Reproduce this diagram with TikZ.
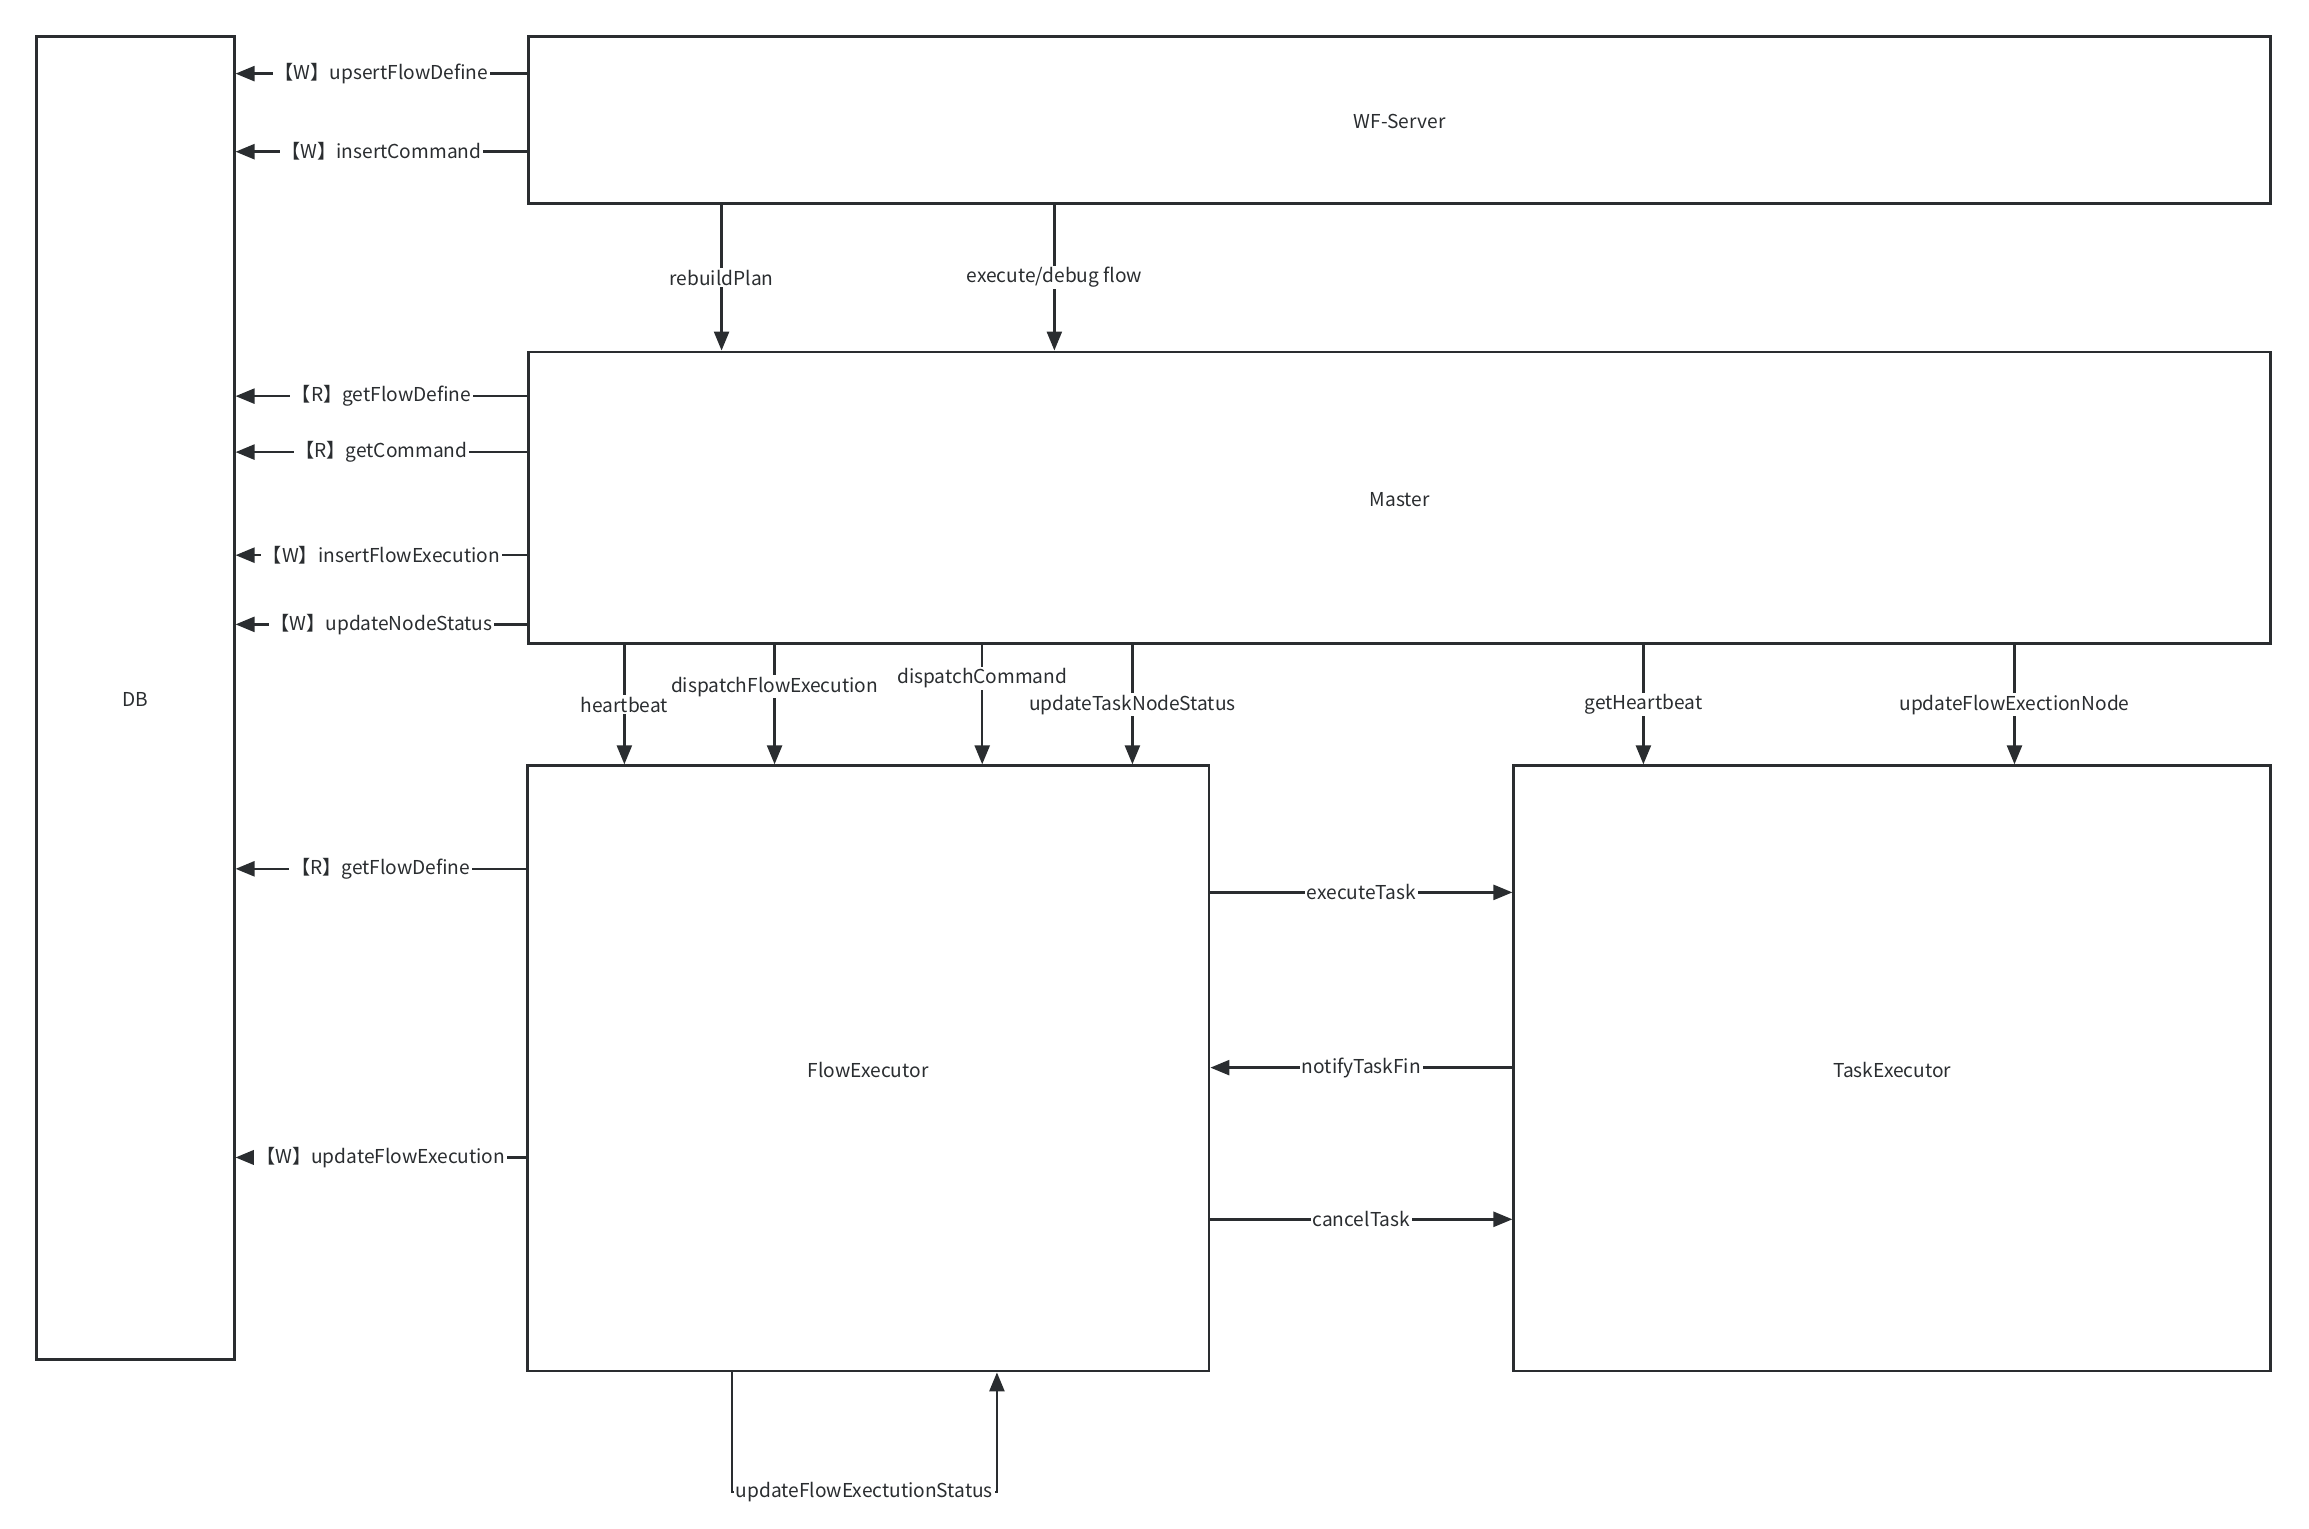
\documentclass[tikz,border=0pt]{standalone}
\usepackage{fontspec}
\setmainfont{Noto Sans CJK SC}
\usetikzlibrary{arrows.meta,fit}
\definecolor{ink}{RGB}{42,45,48}
\begin{document}
\begin{tikzpicture}[x=0.029452cm,y=-0.029452cm,
  font=\fontsize{10.9}{13}\selectfont, text=ink,
  box/.style={draw=ink,line width=1.6pt,inner sep=0pt,rectangle},
  arr/.style={draw=ink,line width=1.4pt,-{Triangle[length=0.38cm,width=0.3cm]}},
  lbl/.style={fill=white,inner sep=1pt,text=ink},
  title/.style={inner sep=0pt,text=ink}]
\useasboundingbox (0,0) rectangle (1568,1038);
% boxes
\node[box,fit={(25,25)(159,923)}] (db) {};
\node[box,fit={(359,25)(1542,138)}] (wf) {};
\node[box,fit={(359,239)(1542,437)}] (master) {};
\node[box,fit={(358,520)(821,931)}] (fe) {};
\node[box,fit={(1028,520)(1542,931)}] (te) {};
\node[title] (dbt) at ([yshift=-0.03cm]db.center) {DB};
\node[title] (wft) at ([yshift=-0.03cm]wf.center) {WF-Server};
\node[title] (mastert) at ([yshift=-0.03cm]master.center) {Master};
\node[title] (fet) at ([yshift=-0.03cm]fe.center) {FlowExecutor};
\node[title] (tet) at ([yshift=-0.03cm]te.center) {TaskExecutor};
% WF-Server -> DB
\draw[arr] (wf.west |- 0,50) -- node[lbl]{【W】upsertFlowDefine} (db.east |- 0,50);
\draw[arr] (wf.west |- 0,103) -- node[lbl]{【W】insertCommand} (db.east |- 0,103);
% WF-Server -> Master
\draw[arr] (wf.south -| 490,0) -- node[lbl]{rebuildPlan} (master.north -| 490,0);
\draw[arr] (wf.south -| 716,0) -- node[lbl]{execute/debug flow} (master.north -| 716,0);
% Master -> DB
\draw[arr] (master.west |- 0,269) -- node[lbl]{【R】getFlowDefine} (db.east |- 0,269);
\draw[arr] (master.west |- 0,307) -- node[lbl]{【R】getCommand} (db.east |- 0,307);
\draw[arr] (master.west |- 0,377) -- node[lbl]{【W】insertFlowExecution} (db.east |- 0,377);
\draw[arr] (master.west |- 0,424) -- node[lbl]{【W】updateNodeStatus} (db.east |- 0,424);
% Master -> FlowExecutor
\draw[arr] (master.south -| 424,0) -- node[lbl,pos=0.5]{heartbeat} (fe.north -| 424,0);
\draw[arr] (master.south -| 526,0) -- node[lbl,pos=0.35]{dispatchFlowExecution} (fe.north -| 526,0);
\draw[arr] (master.south -| 667,0) -- node[lbl,pos=0.28]{dispatchCommand} (fe.north -| 667,0);
\draw[arr] (master.south -| 769,0) -- node[lbl,pos=0.5]{updateTaskNodeStatus} (fe.north -| 769,0);
% Master -> TaskExecutor
\draw[arr] (master.south -| 1116,0) -- node[lbl]{getHeartbeat} (te.north -| 1116,0);
\draw[arr] (master.south -| 1368,0) -- node[lbl]{updateFlowExectionNode} (te.north -| 1368,0);
% FlowExecutor -> DB
\draw[arr] (fe.west |- 0,590) -- node[lbl]{【R】getFlowDefine} (db.east |- 0,590);
\draw[arr] (fe.west |- 0,786) -- node[lbl]{【W】updateFlowExecution} (db.east |- 0,786);
% FlowExecutor <-> TaskExecutor
\draw[arr] (fe.east |- 0,606) -- node[lbl]{executeTask} (te.west |- 0,606);
\draw[arr] (te.west |- 0,725) -- node[lbl]{notifyTaskFin} (fe.east |- 0,725);
\draw[arr] (fe.east |- 0,828) -- node[lbl]{cancelTask} (te.west |- 0,828);
% self loop
\coordinate (lpA) at (497,1013);
\coordinate (lpB) at (677,1013);
\draw[arr] (fe.south -| lpA) -- (lpA) -- node[lbl]{updateFlowExectutionStatus} (lpB) -- (fe.south -| lpB);
\end{tikzpicture}
\end{document}
